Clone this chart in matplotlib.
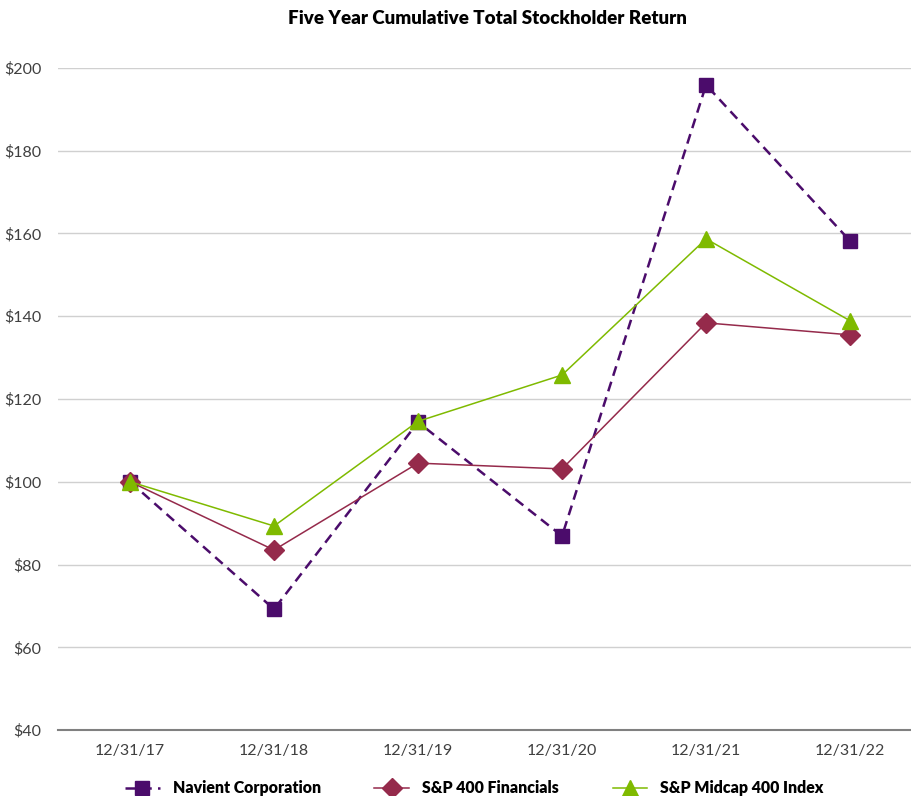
import matplotlib
matplotlib.use("Agg")
import matplotlib.pyplot as plt

dates = ['12/31/17', '12/31/18', '12/31/19', '12/31/20', '12/31/21', '12/31/22']
navient = [100, 69.2, 114.4, 86.9, 195.9, 158.2]
financials = [100, 83.5, 104.5, 103.1, 138.4, 135.5]
midcap = [100, 89.3, 114.6, 125.8, 158.7, 138.9]

plt.rcParams['font.family'] = ['Lato', 'DejaVu Sans']

fig = plt.figure(figsize=(9.12, 7.96), dpi=100)
ax = fig.add_axes([0.0636, 0.0829, 0.9364, 0.8317])

x = list(range(len(dates)))
ax.plot(x, navient, color='#4b0c6b', linestyle=(0, (4, 2.5)), linewidth=1.8,
        marker='s', markersize=10, label='Navient Corporation', zorder=3)
ax.plot(x, financials, color='#952a4b', linewidth=1.1,
        marker='D', markersize=10, label='S&P 400 Financials', zorder=3)
ax.plot(x, midcap, color='#7fba00', linewidth=1.1,
        marker='^', markersize=12, label='S&P Midcap 400 Index', zorder=4)

ax.set_ylim(40, 200)
ax.set_xlim(-0.5, 5.43)
ax.set_yticks(range(40, 201, 20))
ax.set_yticklabels(['$%d' % v for v in range(40, 201, 20)])
ax.set_xticks(x)
ax.set_xticklabels(dates)
ax.grid(axis='y', color='#d0d0d0', linewidth=1)
ax.set_axisbelow(True)
for s in ['top', 'right', 'left']:
    ax.spines[s].set_visible(False)
ax.spines['bottom'].set_color('#808080')
ax.spines['bottom'].set_linewidth(1.5)
ax.tick_params(length=0, labelsize=11.5, colors='#404040', pad=10)
ax.tick_params(axis='y', pad=12)

fig.text(0.535, 0.977, 'Five Year Cumulative Total Stockholder Return',
         ha='center', va='center', fontsize=13.5, fontweight='heavy')

fig.legend(loc='lower center', ncol=3, frameon=False, bbox_to_anchor=(0.52, -0.018),
           prop={'weight': 'heavy', 'size': 11.4}, handlelength=2.2, columnspacing=3.4)

fig.savefig('out.png', dpi=100)
